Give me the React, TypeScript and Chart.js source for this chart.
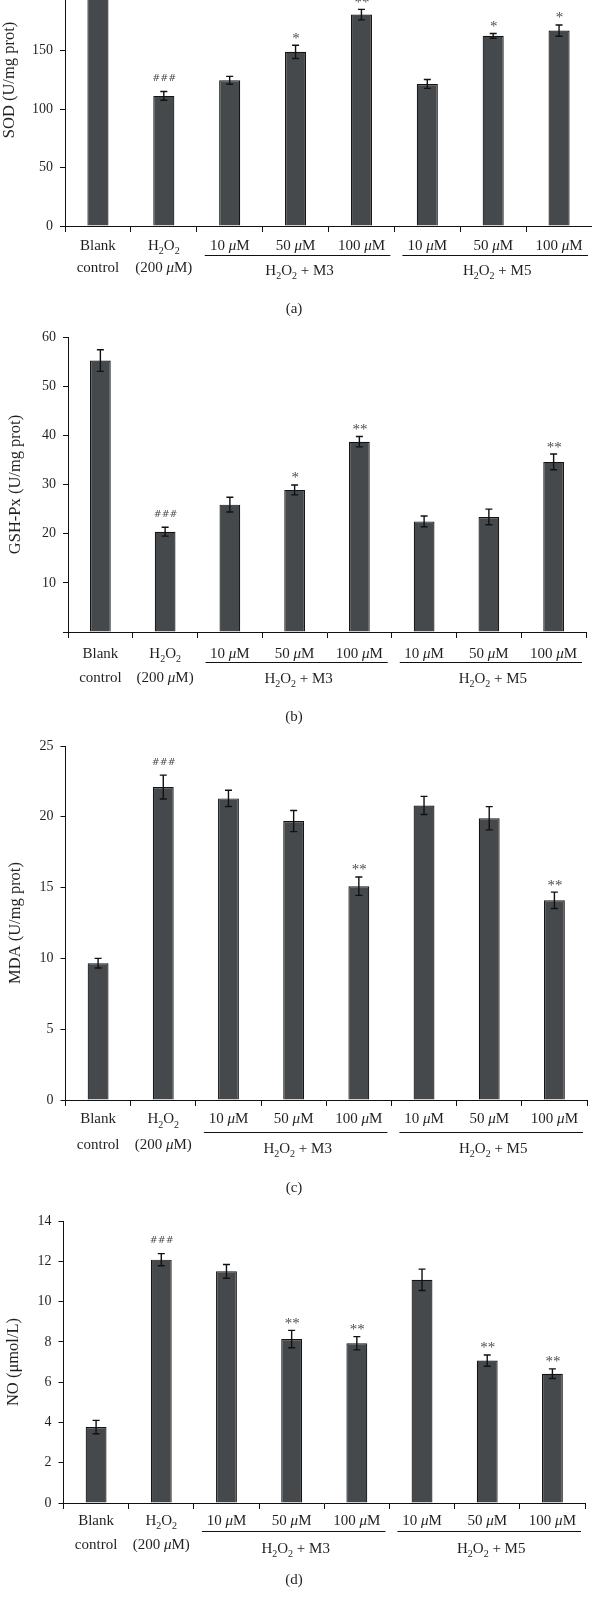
import React, { useEffect, useRef } from 'react';
import { Chart, registerables } from 'chart.js';

Chart.register(...registerables);

// ---------------- Data ----------------
const categories = [
  'Blank control',
  'H2O2 (200 μM)',
  'H2O2 + M3 10 μM',
  'H2O2 + M3 50 μM',
  'H2O2 + M3 100 μM',
  'H2O2 + M5 10 μM',
  'H2O2 + M5 50 μM',
  'H2O2 + M5 100 μM',
];
const row1Labels = ['Blank', 'H2O2', '10 μM', '50 μM', '100 μM', '10 μM', '50 μM', '100 μM'];
const row2Labels = ['control', '(200 μM)', '', '', '', '', '', ''];
const groupLabels = ['H2O2 + M3', 'H2O2 + M5'];

const sodValues = [230, 111.4, 124.7, 149.1, 181.0, 121.6, 162.8, 167.3];
const sodErrors = [5.0, 3.8, 3.4, 5.7, 4.5, 3.8, 2.0, 4.8];
const sodMarks = ['', '###', '', '*', '**', '', '*', '*'];
const sodTickValues = [0, 50, 100, 150, 200, 250];
const sodTickLabels = ['0', '50', '100', '150', '200', '250'];

const gshValues = [55.2, 20.4, 25.9, 28.9, 38.7, 22.5, 23.4, 34.6];
const gshErrors = [2.2, 0.9, 1.5, 1.0, 1.05, 1.1, 1.6, 1.6];
const gshMarks = ['', '###', '', '*', '**', '', '', '**'];
const gshTickValues = [0, 10, 20, 30, 40, 50, 60];
const gshTickLabels = ['', '10', '20', '30', '40', '50', '60'];

const mdaValues = [9.66, 22.1, 21.3, 19.7, 15.1, 20.8, 19.9, 14.1];
const mdaErrors = [0.34, 0.84, 0.57, 0.75, 0.65, 0.64, 0.82, 0.58];
const mdaMarks = ['', '###', '', '', '**', '', '', '**'];
const mdaTickValues = [0, 5, 10, 15, 20, 25];
const mdaTickLabels = ['0', '5', '10', '15', '20', '25'];

const noValues = [3.77, 12.08, 11.5, 8.14, 7.93, 11.08, 7.07, 6.42];
const noErrors = [0.33, 0.3, 0.34, 0.43, 0.33, 0.53, 0.28, 0.24];
const noMarks = ['', '###', '', '**', '**', '', '**', '**'];
const noTickValues = [0, 2, 4, 6, 8, 10, 12, 14];
const noTickLabels = ['0', '2', '4', '6', '8', '10', '12', '14'];

// ---------------- Styling / layout ----------------
const W = 592;
const SERIF = '"Liberation Serif", "Times New Roman", serif';
const TEXT = '#231f20';
const BAR = '#46494c';
const X_AXIS_H = 8;
const FS = 15;
const TITLE_FS = 16.5;

type Panel = {
  letter: string;
  title: string;
  values: number[];
  errors: number[];
  marks: string[];
  tickValues: number[];
  tickLabels: string[];
  canvasTop: number;
  canvasBottom: number;
  plotTop: number;
  axisY: number;
  axisX: number;
  axisRight: number;
  titleX: number;
  r1: number;
  r2: number;
  ul: number;
  grp: number;
  let: number;
};

const panels: Panel[] = [
  {
    letter: '(a)', title: 'SOD (U/mg prot)', values: sodValues, errors: sodErrors, marks: sodMarks,
    tickValues: sodTickValues, tickLabels: sodTickLabels,
    canvasTop: -70, canvasBottom: 330, plotTop: -66, axisY: 226, axisX: 65, axisRight: 592,
    titleX: 10, r1: 24, r2: 45.7, ul: 29, grp: 49, let: 87,
  },
  {
    letter: '(b)', title: 'GSH-Px (U/mg prot)', values: gshValues, errors: gshErrors, marks: gshMarks,
    tickValues: gshTickValues, tickLabels: gshTickLabels,
    canvasTop: 330, canvasBottom: 730, plotTop: 337, axisY: 632, axisX: 68, axisRight: 586,
    titleX: 16, r1: 26, r2: 50, ul: 30, grp: 50.5, let: 89,
  },
  {
    letter: '(c)', title: 'MDA (U/mg prot)', values: mdaValues, errors: mdaErrors, marks: mdaMarks,
    tickValues: mdaTickValues, tickLabels: mdaTickLabels,
    canvasTop: 730, canvasBottom: 1200, plotTop: 746, axisY: 1100, axisX: 65.5, axisRight: 587,
    titleX: 16, r1: 23.3, r2: 49.3, ul: 31.7, grp: 53, let: 92,
  },
  {
    letter: '(d)', title: 'NO (μmol/L)', values: noValues, errors: noErrors, marks: noMarks,
    tickValues: noTickValues, tickLabels: noTickLabels,
    canvasTop: 1200, canvasBottom: 1597, plotTop: 1221, axisY: 1503, axisX: 63.5, axisRight: 585,
    titleX: 14, r1: 21.6, r2: 45.6, ul: 28.3, grp: 50, let: 81,
  },
];

type Seg = { t: string; it: boolean; sub: boolean };
function segs(text: string): Seg[] {
  const out: Seg[] = [];
  for (let i = 0; i < text.length; i++) {
    const c = text[i];
    const prev = i > 0 ? text[i - 1] : '';
    const it = c === 'μ';
    const sub = c === '2' && (prev === 'H' || prev === 'O');
    const last = out[out.length - 1];
    if (last && last.it === it && last.sub === sub) last.t += c;
    else out.push({ t: c, it, sub });
  }
  return out;
}

function drawRich(ctx: CanvasRenderingContext2D, text: string, cx: number, baseline: number, size: number) {
  if (!text) return;
  const s = segs(text);
  const font = (g: Seg) => `${g.it ? 'italic ' : ''}${g.sub ? Math.round(size * 0.68) : size}px ${SERIF}`;
  let total = 0;
  const ws = s.map((g) => {
    ctx.font = font(g);
    const w = ctx.measureText(g.t).width;
    total += w;
    return w;
  });
  let x = cx - total / 2;
  ctx.textAlign = 'left';
  ctx.textBaseline = 'alphabetic';
  ctx.fillStyle = TEXT;
  s.forEach((g, i) => {
    ctx.font = font(g);
    ctx.fillText(g.t, x, baseline + (g.sub ? size * 0.28 : 0));
    x += ws[i];
  });
}

function drawMark(ctx: CanvasRenderingContext2D, mark: string, cx: number, yTop: number) {
  if (!mark) return;
  const isHash = mark.includes('#');
  ctx.font = isHash ? '9.5px "DejaVu Sans", sans-serif' : `15px ${SERIF}`;
  const m = ctx.measureText(mark);
  const center = yTop - (isHash ? 14 : 9.5);
  const baseline = center + (m.actualBoundingBoxAscent - m.actualBoundingBoxDescent) / 2;
  ctx.textAlign = 'center';
  ctx.textBaseline = 'alphabetic';
  ctx.fillStyle = '#4d4d4d';
  ctx.fillText(mark, cx, baseline);
}

function makePlugin(p: Panel) {
  return {
    id: 'annot' + p.letter,
    afterDraw(chart: any) {
      const ctx: CanvasRenderingContext2D = chart.ctx;
      const xs = chart.scales.x;
      const ys = chart.scales.y;
      const off = p.canvasTop;
      const axisY = p.axisY - off;
      ctx.save();
      // error bars
      ctx.strokeStyle = '#111';
      ctx.lineWidth = 1.4;
      p.values.forEach((v, i) => {
        const e = p.errors[i];
        const x = xs.getPixelForValue(i);
        const yT = ys.getPixelForValue(v + e);
        const yB = ys.getPixelForValue(v - e);
        ctx.beginPath();
        ctx.moveTo(x, yT);
        ctx.lineTo(x, yB);
        ctx.moveTo(x - 3.5, yT);
        ctx.lineTo(x + 3.5, yT);
        ctx.moveTo(x - 3.5, yB);
        ctx.lineTo(x + 3.5, yB);
        ctx.stroke();
        drawMark(ctx, p.marks[i], x + 0.5, yT);
      });
      // category labels
      row1Labels.forEach((t, i) => {
        const x = xs.getPixelForValue(i);
        drawRich(ctx, t, x, axisY + p.r1, FS);
        drawRich(ctx, row2Labels[i], x, axisY + p.r2, FS);
      });
      // group underlines and labels
      const b = (k: number) => xs.getPixelForValue(k - 0.5);
      ctx.strokeStyle = '#111';
      ctx.lineWidth = 1;
      [[2, 5], [5, 8]].forEach(([s, e], gi) => {
        const x0 = b(s) + 8;
        const x1 = b(e) - 4;
        const y = Math.round(axisY + p.ul) + 0.5;
        ctx.beginPath();
        ctx.moveTo(x0, y);
        ctx.lineTo(x1, y);
        ctx.stroke();
        drawRich(ctx, groupLabels[gi], (b(s) + b(e)) / 2 + 4, axisY + p.grp, FS);
      });
      // panel letter
      drawRich(ctx, p.letter, 294, axisY + p.let, FS);
      ctx.restore();
    },
  };
}

function makeConfig(p: Panel): any {
  const h = p.canvasBottom - p.canvasTop;
  const padTop = p.plotTop - p.canvasTop;
  const padBottom = h - (p.axisY - p.canvasTop) - X_AXIS_H;
  return {
    type: 'bar',
    data: {
      labels: categories,
      datasets: [
        {
          data: p.values,
          backgroundColor: BAR,
          borderColor: '#141414',
          borderWidth: 1.2,
          barPercentage: 0.32,
          categoryPercentage: 1,
        },
      ],
    },
    options: {
      animation: false,
      responsive: false,
      maintainAspectRatio: false,
      devicePixelRatio: 1,
      events: [],
      layout: {
        autoPadding: false,
        padding: { left: 0, right: W - p.axisRight, top: padTop, bottom: padBottom },
      },
      plugins: { legend: { display: false }, tooltip: { enabled: false }, title: { display: false } },
      scales: {
        x: {
          type: 'category',
          offset: true,
          grid: {
            display: true,
            offset: true,
            drawOnChartArea: false,
            drawTicks: true,
            tickLength: 6,
            color: '#111',
            lineWidth: 1,
          },
          border: { display: true, color: '#111', width: 1 },
          ticks: { display: false },
          afterFit: (s: any) => {
            s.height = X_AXIS_H;
            s.paddingLeft = 0;
            s.paddingRight = 0;
            s.paddingTop = 0;
            s.paddingBottom = 0;
          },
        },
        y: {
          type: 'linear',
          min: p.tickValues[0],
          max: p.tickValues[p.tickValues.length - 1],
          grid: { drawOnChartArea: false, drawTicks: true, tickLength: 5, color: '#111', lineWidth: 1 },
          border: { display: true, color: '#111', width: 1 },
          afterBuildTicks: (axis: any) => {
            axis.ticks = p.tickValues.map((v) => ({ value: v }));
          },
          ticks: {
            padding: 7,
            color: TEXT,
            font: { family: SERIF, size: 14 },
            callback: (v: number) => {
              const idx = p.tickValues.indexOf(v);
              return idx >= 0 ? p.tickLabels[idx] : '';
            },
          },
          title: {
            display: true,
            text: p.title,
            color: TEXT,
            font: { family: SERIF, size: TITLE_FS, lineHeight: 1.2 },
            padding: { top: p.titleX - (TITLE_FS * 1.2) / 2, bottom: 0 },
          },
          afterFit: (s: any) => {
            s.width = p.axisX;
            s.paddingLeft = 0;
            s.paddingRight = 0;
            s.paddingTop = 0;
            s.paddingBottom = 0;
          },
        },
      },
    },
    plugins: [makePlugin(p)],
  };
}

function PanelChart({ p }: { p: Panel }) {
  const ref = useRef<HTMLCanvasElement>(null);
  useEffect(() => {
    if (!ref.current) return;
    const chart = new Chart(ref.current, makeConfig(p));
    return () => chart.destroy();
  }, [p]);
  const h = p.canvasBottom - p.canvasTop;
  return (
    <canvas
      ref={ref}
      width={W}
      height={h}
      style={{ position: 'absolute', left: 0, top: p.canvasTop, width: W, height: h, display: 'block' }}
    />
  );
}

export default function App() {
  return (
    <div
      style={{
        position: 'absolute',
        left: 0,
        top: 0,
        width: W,
        height: 1597,
        overflow: 'hidden',
        background: '#ffffff',
      }}
    >
      {panels.map((p) => (
        <PanelChart key={p.letter} p={p} />
      ))}
    </div>
  );
}
